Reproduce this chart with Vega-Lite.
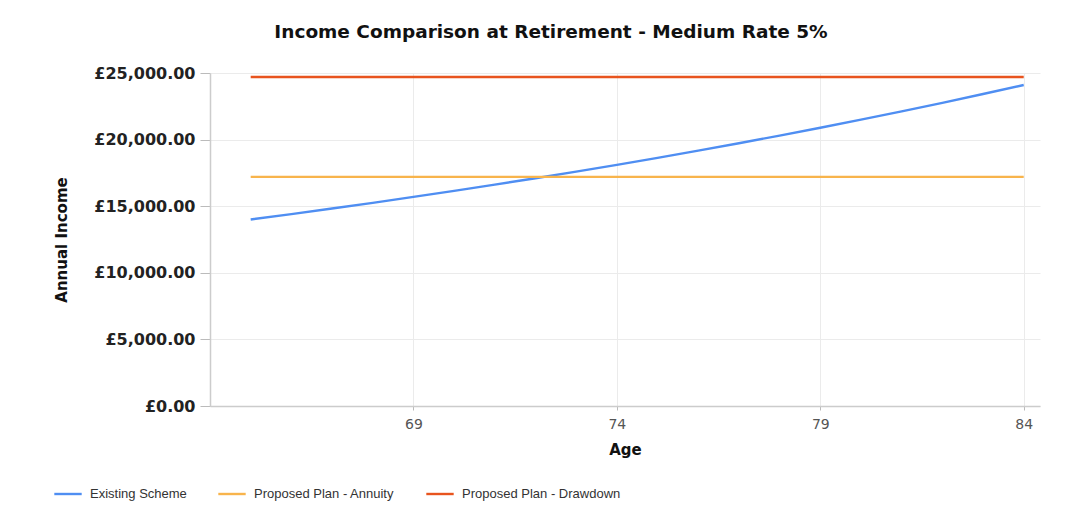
{
  "$schema": "https://vega.github.io/schema/vega-lite/v6.json",
  "width": 830,
  "height": 333,
  "autosize": {"type": "none"},
  "padding": {"left": 210, "top": 73, "right": 40, "bottom": 114},
  "background": "white",
  "title": {
    "text": "Income Comparison at Retirement - Medium Rate 5%",
    "font": "DejaVu Sans",
    "fontSize": 18.5,
    "fontWeight": "bold",
    "color": "#111111",
    "anchor": "middle",
    "frame": "group",
    "dx": -74,
    "offset": 24
  },
  "data": {
    "values": [
      {"age": 65, "income": 14000, "series": "Existing Scheme"},
      {"age": 66, "income": 14406, "series": "Existing Scheme"},
      {"age": 67, "income": 14824, "series": "Existing Scheme"},
      {"age": 68, "income": 15253, "series": "Existing Scheme"},
      {"age": 69, "income": 15696, "series": "Existing Scheme"},
      {"age": 70, "income": 16151, "series": "Existing Scheme"},
      {"age": 71, "income": 16619, "series": "Existing Scheme"},
      {"age": 72, "income": 17101, "series": "Existing Scheme"},
      {"age": 73, "income": 17597, "series": "Existing Scheme"},
      {"age": 74, "income": 18107, "series": "Existing Scheme"},
      {"age": 75, "income": 18632, "series": "Existing Scheme"},
      {"age": 76, "income": 19172, "series": "Existing Scheme"},
      {"age": 77, "income": 19728, "series": "Existing Scheme"},
      {"age": 78, "income": 20300, "series": "Existing Scheme"},
      {"age": 79, "income": 20889, "series": "Existing Scheme"},
      {"age": 80, "income": 21495, "series": "Existing Scheme"},
      {"age": 81, "income": 22118, "series": "Existing Scheme"},
      {"age": 82, "income": 22760, "series": "Existing Scheme"},
      {"age": 83, "income": 23420, "series": "Existing Scheme"},
      {"age": 84, "income": 24100, "series": "Existing Scheme"},
      {"age": 65, "income": 17200, "series": "Proposed Plan - Annuity"},
      {"age": 84, "income": 17200, "series": "Proposed Plan - Annuity"},
      {"age": 65, "income": 24700, "series": "Proposed Plan - Drawdown"},
      {"age": 84, "income": 24700, "series": "Proposed Plan - Drawdown"}
    ]
  },
  "mark": {"type": "line", "strokeWidth": 2.4},
  "encoding": {
    "x": {
      "field": "age",
      "type": "quantitative",
      "title": "Age",
      "scale": {"domain": [64, 84.4], "nice": false, "zero": false},
      "axis": {
        "values": [69, 74, 79, 84],
        "labelFont": "DejaVu Sans",
        "labelFontSize": 14,
        "labelColor": "#555555",
        "labelPadding": 7,
        "tickSize": 4,
        "tickColor": "#bbbbbb",
        "domainColor": "#cccccc",
        "domainWidth": 1.5,
        "gridColor": "#ebebeb",
        "titleFont": "DejaVu Sans",
        "titleFontSize": 15,
        "titleFontWeight": "bold",
        "titleColor": "#111111",
        "titlePadding": 11
      }
    },
    "y": {
      "field": "income",
      "type": "quantitative",
      "title": "Annual Income",
      "scale": {"domain": [0, 25000], "nice": false},
      "axis": {
        "values": [0, 5000, 10000, 15000, 20000, 25000],
        "labelExpr": "'£' + format(datum.value, ',.2f')",
        "labelFont": "DejaVu Sans",
        "labelFontSize": 16,
        "labelFontWeight": "bold",
        "labelColor": "#222222",
        "labelPadding": 5,
        "tickSize": 10,
        "tickColor": "#bbbbbb",
        "domainColor": "#cccccc",
        "domainWidth": 1.5,
        "gridColor": "#ebebeb",
        "titleFont": "DejaVu Sans",
        "titleFontSize": 15,
        "titleFontWeight": "bold",
        "titleColor": "#111111",
        "titlePadding": 24
      }
    },
    "color": {
      "field": "series",
      "type": "nominal",
      "title": null,
      "scale": {
        "domain": ["Existing Scheme", "Proposed Plan - Annuity", "Proposed Plan - Drawdown"],
        "range": ["#4f8ef2", "#f8b44c", "#e8541e"]
      },
      "legend": {
        "orient": "none",
        "legendX": -157,
        "legendY": 406,
        "direction": "horizontal",
        "symbolType": "stroke",
        "symbolSize": 750,
        "symbolStrokeWidth": 2.4,
        "labelFont": "Liberation Sans",
        "labelFontSize": 13,
        "labelLimit": 400,
        "labelColor": "#333333",
        "labelOffset": 7,
        "columnPadding": 26
      }
    }
  },
  "config": {
    "view": {"stroke": null}
  }
}
